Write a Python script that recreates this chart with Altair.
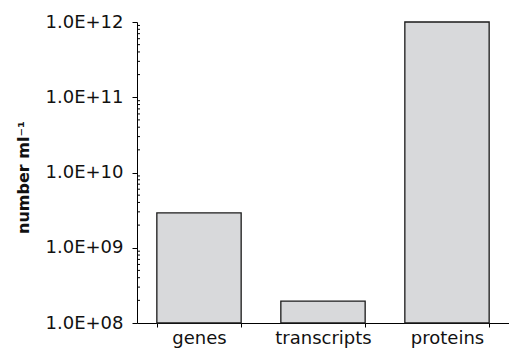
import altair as alt
import pandas as pd

categories = ["genes", "transcripts", "proteins"]
values = [2.9e9, 1.95e8, 1.0e12]
major_ticks = [1e8, 1e9, 1e10, 1e11, 1e12]
minor_mantissas = [2, 3, 4, 5, 6, 7, 8, 9]
minor_exponents = [8, 9, 10, 11]

df = pd.DataFrame({"category": categories, "value": values})
minor_df = pd.DataFrame({"v": [m * 10.0 ** e for e in minor_exponents for m in minor_mantissas]})

yscale = alt.Scale(type="log", domain=[1e8, 1e12], nice=False)
xscale = alt.Scale(domain=categories, paddingInner=0.32, paddingOuter=0.16)

FONT = "DejaVu Sans"

yaxis = alt.Axis(values=major_ticks, title="number ml⁻¹",
                 labelExpr="'1.0E+' + (round(log(datum.value)/LN10) < 10 ? '0' : '') + round(log(datum.value)/LN10)",
                 tickSize=5, tickColor="#000", domainColor="#000",
                 labelColor="#111", labelFont=FONT, labelFontSize=18,
                 labelPadding=9, titleFont=FONT, titleFontSize=16,
                 titleFontWeight="bold", titleColor="#111",
                 titleAngle=-90, titleX=-114, titleY=155,
                 titleAlign="center", titleBaseline="middle", grid=False)

bars = alt.Chart(df).mark_bar(
    fill="#d8d9db", stroke="#1a1a1a", strokeWidth=1.3
).encode(
    x=alt.X("category:N", scale=xscale, sort=categories,
            axis=alt.Axis(title=None, labelAngle=0, tickBand="extent", tickSize=4,
                          tickColor="#000", domainColor="#000", labelColor="#111",
                          labelFont=FONT, labelFontSize=18, labelPadding=2, grid=False)),
    y=alt.Y("value:Q", scale=yscale, axis=yaxis),
    y2=alt.datum(1e8),
)

minor = alt.Chart(minor_df).mark_rule(color="#000", strokeWidth=1).encode(
    y=alt.Y("v:Q", scale=yscale, axis=yaxis),
    x=alt.value(0),
    x2=alt.value(3),
)

chart = alt.layer(bars, minor).properties(
    width=372, height=301,
    background="white",
    autosize=alt.AutoSizeParams(type="none"),
    padding={"left": 129, "top": 14, "right": 0, "bottom": 28},
).configure_view(strokeWidth=0)

chart.save("out.html", embed_options={"renderer": "svg", "actions": False})
